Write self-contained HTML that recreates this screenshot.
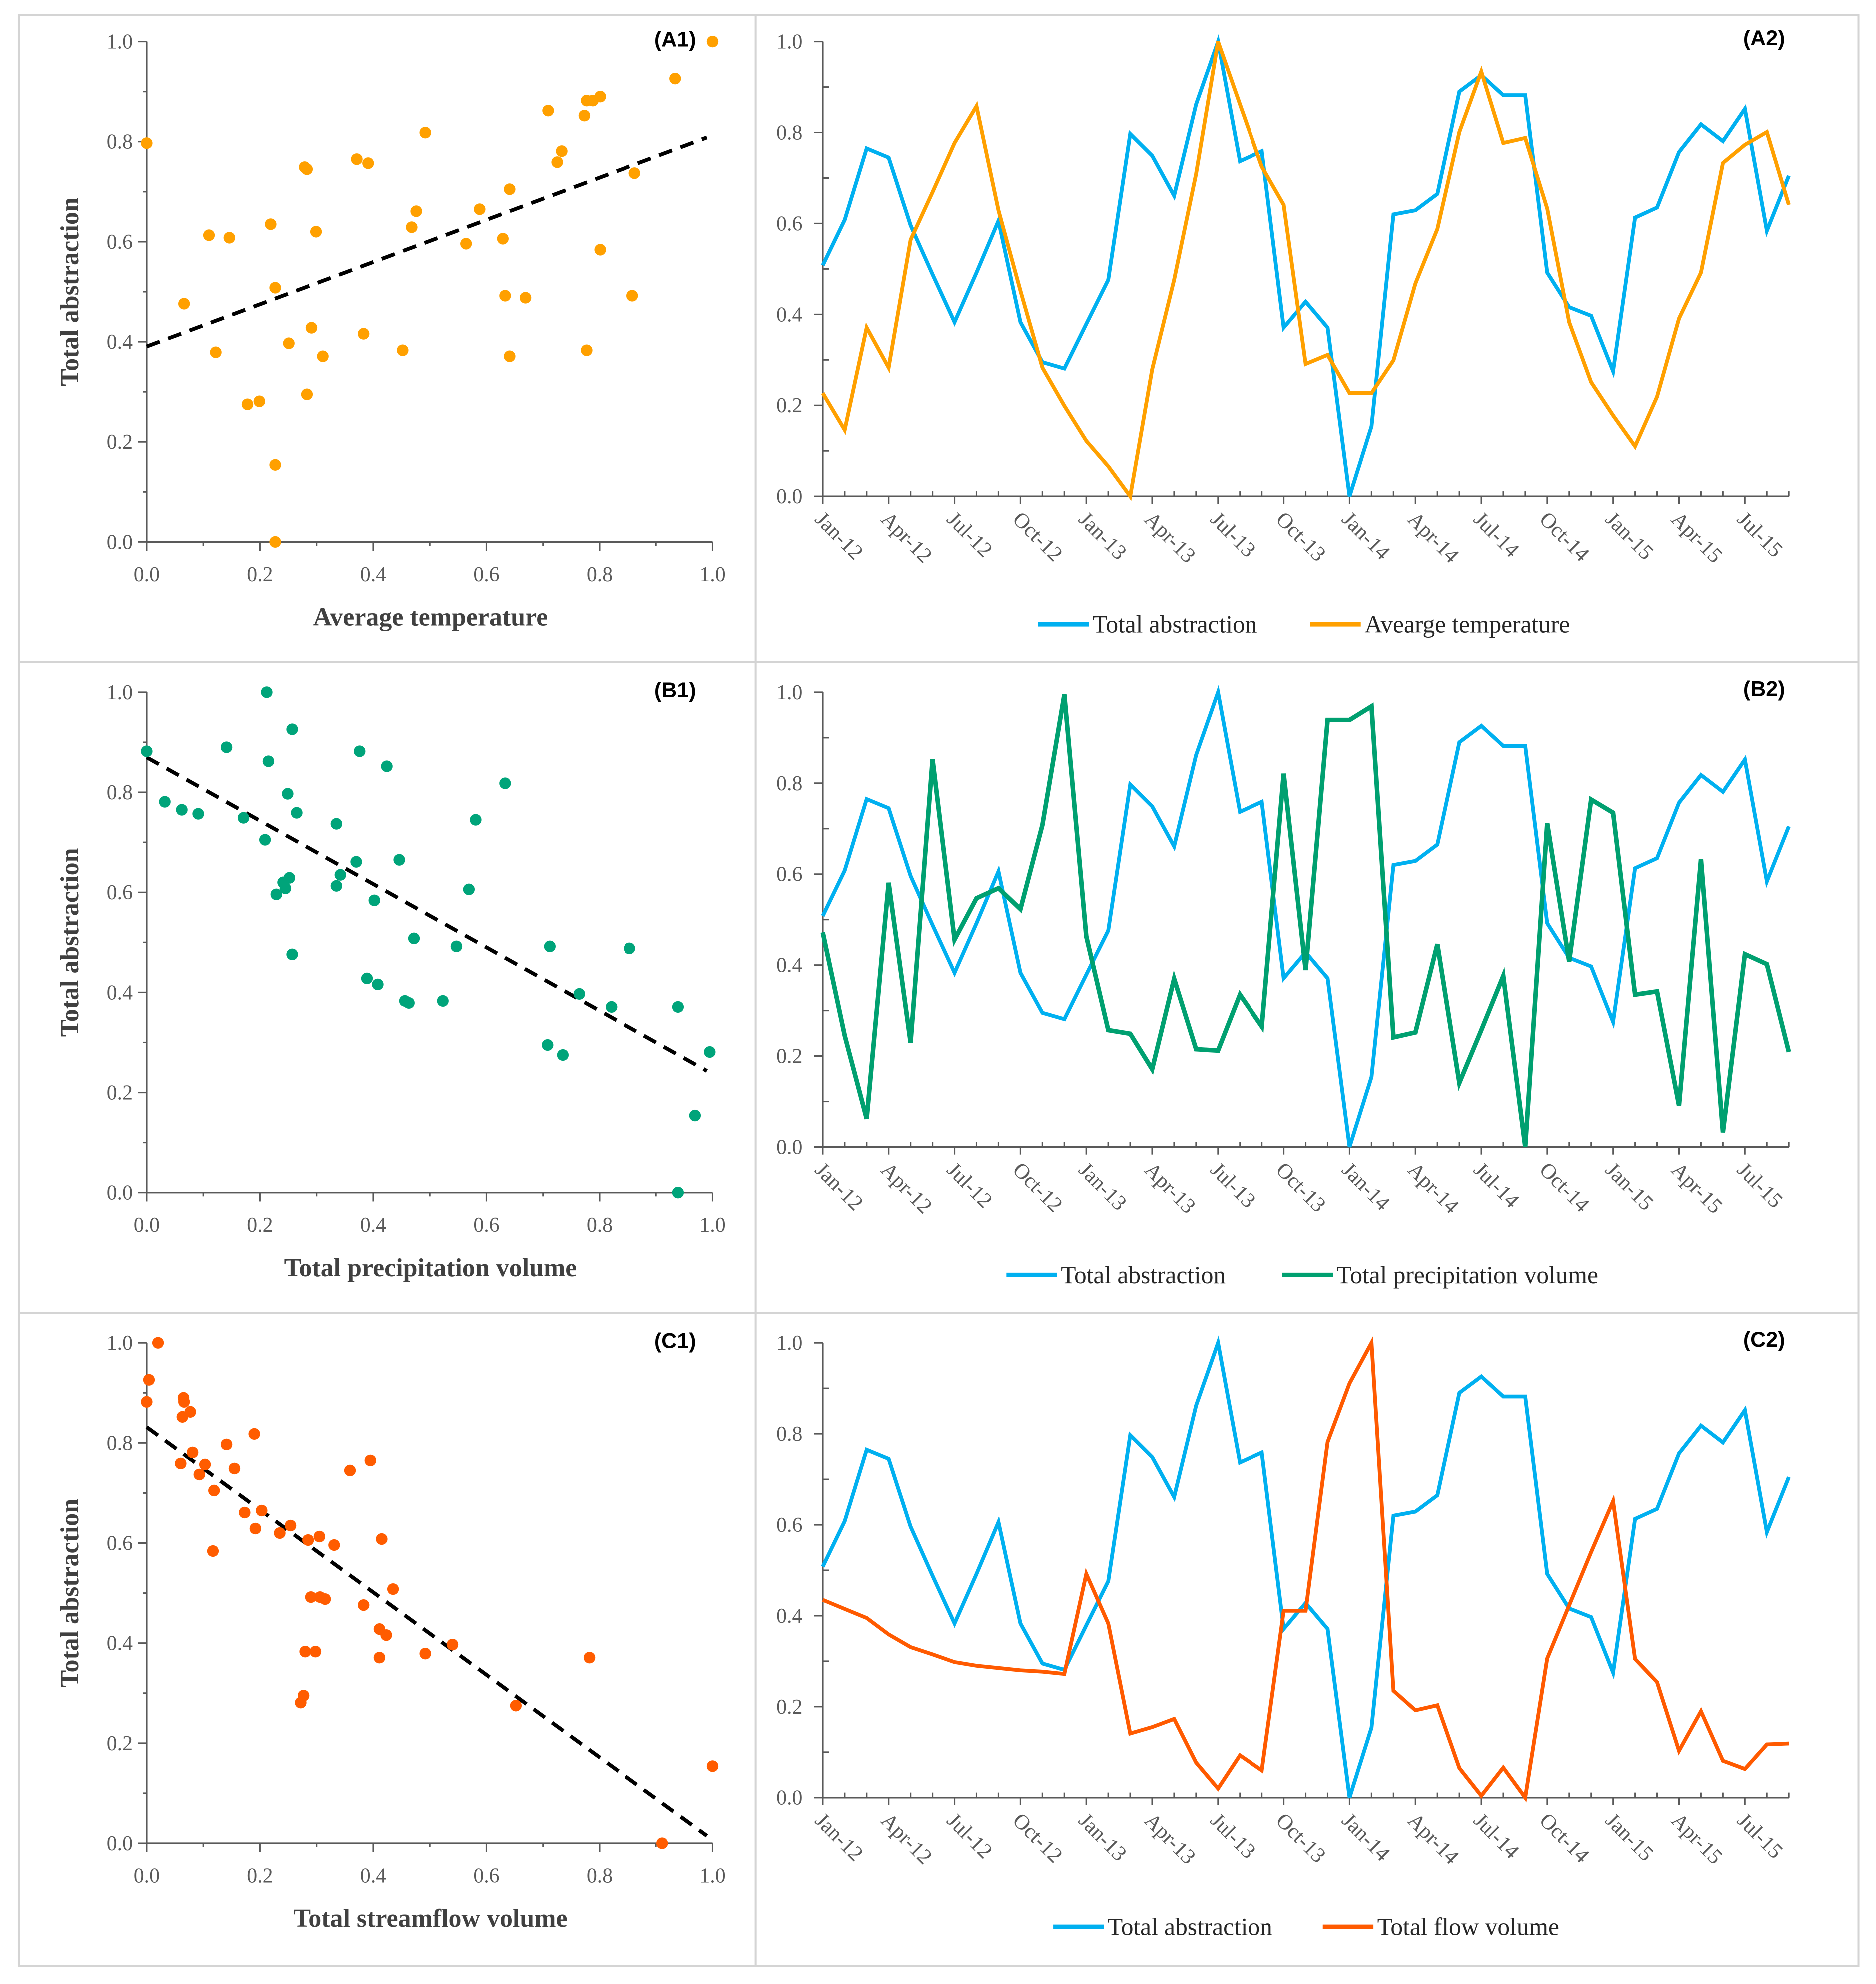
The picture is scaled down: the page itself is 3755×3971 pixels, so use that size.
<!DOCTYPE html>
<html><head><meta charset="utf-8">
<style>
html,body{margin:0;padding:0;background:#fff;}
svg{display:block;}
.tk{font-family:"Liberation Serif",serif;font-size:16.5px;fill:#595959;}
.dt{font-family:"Liberation Serif",serif;font-size:17px;fill:#595959;}
.ttl{font-family:"Liberation Serif",serif;font-size:20.5px;font-weight:bold;fill:#404040;}
.pl{font-family:"Liberation Sans",sans-serif;font-size:17px;font-weight:bold;fill:#000;}
.lg{font-family:"Liberation Serif",serif;font-size:19.5px;fill:#262626;}
</style></head>
<body>
<svg id="fig" width="3755" height="3971" viewBox="0 0 1482 1567.3" preserveAspectRatio="none" xmlns="http://www.w3.org/2000/svg">
<rect x="0" y="0" width="1482" height="1567.3" fill="#fff"/>
<g stroke="#d4d4d4" stroke-width="1.6" fill="none">
<rect x="15" y="12" width="1453" height="1541"/>
<line x1="597" y1="12" x2="597" y2="1553"/>
<line x1="15" y1="523" x2="1468" y2="523"/>
<line x1="15" y1="1037" x2="1468" y2="1037"/>
</g>
</svg>
<script>
// ---- data ----
const months = ["Jan-12","Feb-12","Mar-12","Apr-12","May-12","Jun-12","Jul-12","Aug-12","Sep-12","Oct-12","Nov-12","Dec-12","Jan-13","Feb-13","Mar-13","Apr-13","May-13","Jun-13","Jul-13","Aug-13","Sep-13","Oct-13","Nov-13","Dec-13","Jan-14","Feb-14","Mar-14","Apr-14","May-14","Jun-14","Jul-14","Aug-14","Sep-14","Oct-14","Nov-14","Dec-14","Jan-15","Feb-15","Mar-15","Apr-15","May-15","Jun-15","Jul-15","Aug-15","Sep-15"];
const abstraction = [0.508,0.608,0.765,0.745,0.596,0.488,0.383,0.492,0.606,0.383,0.295,0.281,0.379,0.476,0.797,0.749,0.661,0.862,1.0,0.737,0.759,0.371,0.428,0.371,0.0,0.154,0.62,0.629,0.665,0.89,0.926,0.882,0.882,0.492,0.416,0.397,0.275,0.613,0.635,0.757,0.818,0.781,0.852,0.584,0.705];
const temperature = [0.227,0.146,0.371,0.283,0.564,0.669,0.777,0.858,0.629,0.452,0.283,0.199,0.122,0.066,0.0,0.279,0.476,0.709,1.0,0.862,0.725,0.641,0.291,0.311,0.227,0.227,0.299,0.468,0.588,0.801,0.934,0.777,0.788,0.633,0.383,0.251,0.178,0.110,0.219,0.391,0.492,0.733,0.773,0.801,0.641];
const precipitation = [0.472,0.245,0.062,0.581,0.229,0.853,0.456,0.547,0.569,0.523,0.708,0.995,0.463,0.257,0.249,0.171,0.370,0.215,0.212,0.335,0.265,0.821,0.389,0.939,0.939,0.969,0.241,0.252,0.446,0.141,0.257,0.376,0.0,0.712,0.408,0.764,0.735,0.335,0.342,0.091,0.633,0.032,0.424,0.402,0.209];
const flow = [0.435,0.415,0.395,0.359,0.331,0.315,0.298,0.290,0.285,0.280,0.277,0.272,0.492,0.383,0.141,0.155,0.173,0.077,0.020,0.093,0.060,0.411,0.411,0.782,0.911,1.0,0.235,0.192,0.203,0.065,0.004,0.066,0.0,0.306,0.423,0.540,0.652,0.305,0.254,0.103,0.190,0.081,0.063,0.117,0.119];
const yTicks = ["0.0","0.2","0.4","0.6","0.8","1.0"];
const xTicks = ["0.0","0.2","0.4","0.6","0.8","1.0"];

const NS="http://www.w3.org/2000/svg";
const svg=document.getElementById('fig');
function mk(tag,attrs,parent){const e=document.createElementNS(NS,tag);for(const k in attrs)e.setAttribute(k,attrs[k]);(parent||svg).appendChild(e);return e;}
const AX="#595959";

function scatter(off,xs,ys,color,xtitle,label,key){
  const g=mk('g',{});
  
  
  const x0=116,x1=563,y0=428+off,y1=33+off;
  const sx=v=>x0+(x1-x0)*v, sy=v=>y0-(y0-y1)*v;
  const ax=mk('line',{x1:x0,y1:y0,x2:x0,y2:y1,stroke:AX,'stroke-width':1.3},g);
  
  
  const bx=mk('line',{x1:x0,y1:y0,x2:x1,y2:y0,stroke:AX,'stroke-width':1.3},g);
  
  
  for(let i=0;i<=10;i++){
    const v=i/10, major=i%2===0;
    mk('line',{x1:x0-(major?7:3),y1:sy(v),x2:x0,y2:sy(v),stroke:AX,'stroke-width':1.2},g);
    mk('line',{x1:sx(v),y1:y0,x2:sx(v),y2:y0+(major?7:3),stroke:AX,'stroke-width':1.2},g);
  }
  yTicks.forEach((t,i)=>{const e=mk('text',{x:x0-11,y:sy(i*0.2)+5.5,'text-anchor':'end',class:'tk'},g);e.textContent=t;
    
    });
  xTicks.forEach((t,i)=>{const e=mk('text',{x:sx(i*0.2),y:y0+31,'text-anchor':'middle',class:'tk'},g);e.textContent=t;
    
    });
  const xt=mk('text',{x:340,y:y0+66,'text-anchor':'middle',class:'ttl'},g);xt.textContent=xtitle;
  
  
  const yt=mk('text',{x:0,y:0,'text-anchor':'middle',class:'ttl',transform:`translate(62,${(y0+y1)/2}) rotate(-90)`},g);yt.textContent="Total abstraction";
  
  
  const n=xs.length;let mx=0,my=0;for(let i=0;i<n;i++){mx+=xs[i];my+=ys[i];}mx/=n;my/=n;
  let sxy=0,sxx=0;for(let i=0;i<n;i++){sxy+=(xs[i]-mx)*(ys[i]-my);sxx+=(xs[i]-mx)**2;}
  const b=sxy/sxx,a=my-b*mx;
  const tl=mk('line',{x1:sx(0),y1:sy(a),x2:sx(0.99),y2:sy(a+b*0.99),stroke:'#000','stroke-width':3,'stroke-dasharray':'11,7'},g);
  
  
  for(let i=0;i<n;i++){
    const c=mk('circle',{cx:sx(xs[i]),cy:sy(ys[i]),r:4.6,fill:color},g);
    
    
  }
  const p=mk('text',{x:x1-13,y:y1+4,'text-anchor':'end',class:'pl'},g);p.textContent=label;
  
  
}

function lines(off,series2,color2,name2,label,key,lg){
  const g=mk('g',{});
  
  
  const x0=650,x1=1413,y0=392+off,y1=33+off,N=months.length;
  const sx=i=>x0+(x1-x0)*i/(N-1), sy=v=>y0-(y0-y1)*v;
  const ax=mk('line',{x1:x0,y1:y0,x2:x0,y2:y1,stroke:AX,'stroke-width':1.3},g);
  
  
  const bx=mk('line',{x1:x0,y1:y0,x2:x1,y2:y0,stroke:AX,'stroke-width':1.3},g);
  
  
  for(let i=0;i<=10;i++){const v=i/10;mk('line',{x1:x0-(i%2?0:7),y1:sy(v),x2:x0+(i%2?5:0),y2:sy(v),stroke:AX,'stroke-width':1.2},g);}
  yTicks.forEach((t,i)=>{const e=mk('text',{x:x0-16,y:sy(i*0.2)+5.5,'text-anchor':'end',class:'tk'},g);e.textContent=t;
    
    });
  for(let i=0;i<N;i++){
    const major=i%3===0;
    mk('line',{x1:sx(i),y1:y0-(major?0:4),x2:sx(i),y2:y0+(major?6:0),stroke:AX,'stroke-width':1.2},g);
    if(major && i<=42){
      const e=mk('text',{x:0,y:0,class:'dt',transform:`translate(${sx(i)-7},${y0+19}) rotate(45)`},g);e.textContent=months[i];
      
      
    }
  }
  const path=(arr)=>arr.map((v,i)=>(i?'L':'M')+sx(i).toFixed(2)+','+sy(v).toFixed(2)).join(' ');
  const l1=mk('path',{d:path(abstraction),fill:'none',stroke:'#00b0f0','stroke-width':3,'stroke-linejoin':'miter'},g);
  
  
  const l2=mk('path',{d:path(series2),fill:'none',stroke:color2,'stroke-width':key==='b'?3.6:3,'stroke-linejoin':'miter'},g);
  
  
  const p=mk('text',{x:1410,y:y1+3,'text-anchor':'end',class:'pl'},g);p.textContent=label;
  
  
  const ly=off+(key==='c'?1522-1028:493);
  const le1=mk('g',{},g);
  
  
  mk('line',{x1:lg[0],y1:ly,x2:lg[0]+40,y2:ly,stroke:'#00b0f0','stroke-width':3.6},le1);
  const t1=mk('text',{x:lg[0]+43,y:ly+6.5,class:'lg'},le1);t1.textContent="Total abstraction";
  const le2=mk('g',{},g);
  
  
  mk('line',{x1:lg[1],y1:ly,x2:lg[1]+40,y2:ly,stroke:color2,'stroke-width':3.6},le2);
  const t2=mk('text',{x:lg[1]+43,y:ly+6.5,class:'lg'},le2);t2.textContent=name2;
}

scatter(0,temperature,abstraction,'#ffa000','Average temperature','(A1)','a');
lines(0,temperature,'#ffa000','Avearge temperature','(A2)','a',[820,1035]);
scatter(514,precipitation,abstraction,'#00a47a','Total precipitation volume','(B1)','b');
lines(514,precipitation,'#00a070','Total precipitation volume','(B2)','b',[795,1013]);
scatter(1028,flow,abstraction,'#ff5c00','Total streamflow volume','(C1)','c');
lines(1028,flow,'#ff5a00','Total flow volume','(C2)','c',[832,1045]);
</script>
</body></html>
